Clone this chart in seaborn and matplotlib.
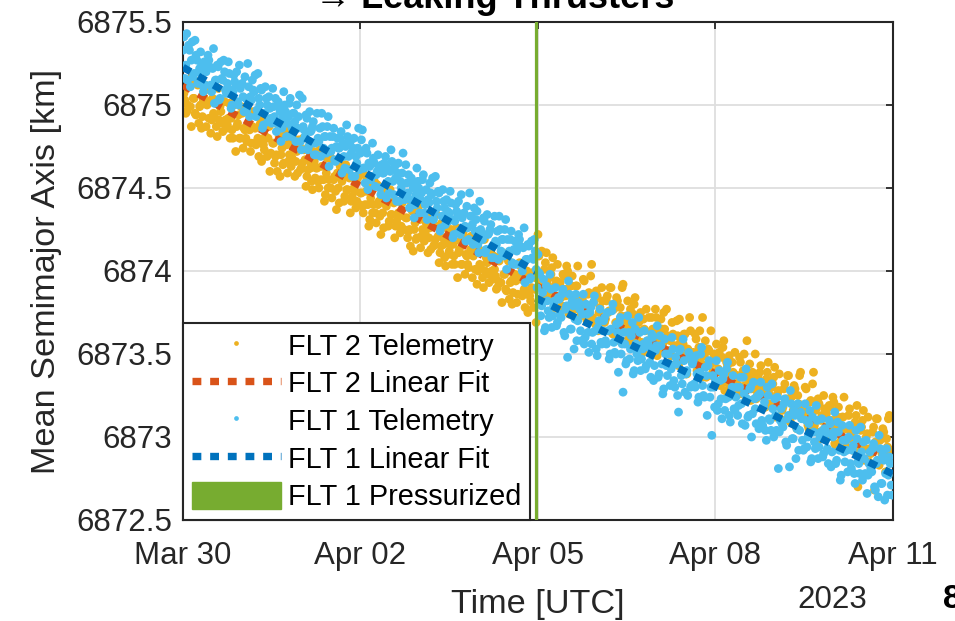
import numpy as np
import pandas as pd
import matplotlib
matplotlib.use("Agg")
import matplotlib.pyplot as plt
from matplotlib.lines import Line2D
from matplotlib.patches import Patch
import seaborn as sns

# ---------------- data ----------------
start_time = "2023-03-30 00:00"
sample_step_hours = 0.75          # telemetry sample spacing
second_pass_offset_hours = 0.375  # second interleaved set of samples
pressurized_time = "2023-04-04 23:12"

# FLT 2 telemetry, mean semimajor axis [km]
flt2_sma_a = [
    6875.15, 6875.03, 6874.96, 6875.12, 6874.99, 6875.17, 6875.04, 6874.94, 6875.12, 6874.99, 6874.86, 6875.03,
    6875.12, 6875.00, 6874.92, 6874.83, 6875.04, 6874.93, 6874.87, 6875.10, 6874.99, 6874.89, 6875.02, 6874.91,
    6874.88, 6875.01, 6874.92, 6874.80, 6875.02, 6874.87, 6874.94, 6874.80, 6874.95, 6874.86, 6874.80, 6874.96,
    6874.85, 6874.77, 6874.96, 6874.86, 6874.78, 6874.69, 6874.91, 6874.78, 6874.73, 6874.90, 6874.80, 6874.60,
    6874.89, 6874.77, 6874.69, 6874.60, 6874.81, 6874.70, 6874.64, 6874.87, 6874.76, 6874.66, 6874.79, 6874.68,
    6874.78, 6874.66, 6874.59, 6874.75, 6874.62, 6874.80, 6874.67, 6874.57, 6874.75, 6874.62, 6874.49, 6874.66,
    6874.62, 6874.54, 6874.73, 6874.63, 6874.55, 6874.46, 6874.68, 6874.55, 6874.50, 6874.67, 6874.57, 6874.37,
    6874.50, 6874.63, 6874.54, 6874.42, 6874.64, 6874.49, 6874.56, 6874.42, 6874.57, 6874.48, 6874.42, 6874.58,
    6874.47, 6874.39, 6874.58, 6874.48, 6874.40, 6874.31, 6874.53, 6874.40, 6874.35, 6874.52, 6874.42, 6874.22,
    6874.35, 6874.48, 6874.39, 6874.27, 6874.49, 6874.34, 6874.41, 6874.27, 6874.42, 6874.33, 6874.27, 6874.43,
    6874.44, 6874.32, 6874.24, 6874.15, 6874.36, 6874.25, 6874.19, 6874.42, 6874.31, 6874.21, 6874.34, 6874.23,
    6874.32, 6874.20, 6874.13, 6874.29, 6874.16, 6874.34, 6874.21, 6874.11, 6874.29, 6874.16, 6874.03, 6874.20,
    6874.12, 6874.25, 6874.16, 6874.04, 6874.26, 6874.11, 6874.18, 6874.04, 6874.19, 6874.10, 6874.04, 6874.20,
    6874.21, 6874.09, 6874.01, 6873.92, 6874.13, 6874.02, 6873.96, 6874.19, 6874.08, 6873.98, 6874.11, 6874.00,
    6874.09, 6873.97, 6873.90, 6874.06, 6873.93, 6874.11, 6873.98, 6873.88, 6874.06, 6873.93, 6873.80, 6873.97,
    6873.94, 6873.86, 6874.05, 6873.95, 6873.87, 6873.78, 6874.00, 6873.87, 6873.82, 6873.99, 6873.89, 6873.69,
    6874.22, 6873.91, 6874.12, 6873.84, 6874.05, 6873.92, 6873.85, 6873.98, 6874.08, 6873.85, 6873.94, 6873.77,
    6873.93, 6873.79, 6873.97, 6873.85, 6874.00, 6873.74, 6873.91, 6873.84, 6873.77, 6873.91, 6873.84, 6873.73,
    6873.83, 6873.94, 6873.72, 6873.86, 6873.77, 6874.04, 6873.81, 6873.68, 6873.85, 6873.75, 6873.69, 6873.82,
    6873.69, 6873.82, 6873.75, 6873.90, 6873.63, 6873.77, 6873.69, 6873.82, 6873.58, 6873.73, 6873.92, 6873.67,
    6873.73, 6873.59, 6873.77, 6873.65, 6873.80, 6873.54, 6873.71, 6873.64, 6873.57, 6873.71, 6873.64, 6873.53,
    6873.72, 6873.58, 6873.65, 6873.51, 6873.72, 6873.59, 6873.52, 6873.65, 6873.75, 6873.52, 6873.61, 6873.44,
    6873.49, 6873.62, 6873.55, 6873.70, 6873.43, 6873.57, 6873.49, 6873.62, 6873.38, 6873.53, 6873.72, 6873.47,
    6873.51, 6873.62, 6873.40, 6873.54, 6873.45, 6873.72, 6873.49, 6873.36, 6873.53, 6873.43, 6873.37, 6873.50,
    6873.47, 6873.33, 6873.51, 6873.39, 6873.54, 6873.28, 6873.45, 6873.38, 6873.31, 6873.45, 6873.38, 6873.27,
    6873.37, 6873.48, 6873.26, 6873.40, 6873.31, 6873.58, 6873.35, 6873.22, 6873.39, 6873.29, 6873.23, 6873.36,
    6873.39, 6873.25, 6873.32, 6873.18, 6873.39, 6873.26, 6873.19, 6873.32, 6873.42, 6873.19, 6873.28, 6873.11,
    6873.16, 6873.29, 6873.22, 6873.37, 6873.10, 6873.24, 6873.16, 6873.29, 6873.05, 6873.20, 6873.39, 6873.14,
    6873.18, 6873.29, 6873.07, 6873.21, 6873.12, 6873.39, 6873.16, 6873.03, 6873.20, 6873.10, 6873.04, 6873.17,
    6873.14, 6873.00, 6873.18, 6873.06, 6873.21, 6872.95, 6873.12, 6873.05, 6872.98, 6873.12, 6873.05, 6872.94,
    6873.13, 6872.99, 6873.06, 6872.92, 6873.13, 6872.70, 6872.93, 6873.06, 6873.16, 6872.93, 6873.02, 6872.85,
    6872.90, 6873.03, 6872.68, 6873.11, 6872.84, 6872.98, 6872.90, 6873.03, 6872.79, 6872.94, 6873.13, 6872.88,
]
flt2_sma_b = [
    6875.07, 6874.95, 6875.00, 6875.15, 6874.87, 6875.04, 6874.95, 6875.14, 6874.89, 6875.00, 6874.93, 6875.04,
    6874.87, 6875.02, 6875.09, 6874.91, 6874.95, 6875.03, 6874.81, 6874.91, 6874.96, 6874.84, 6875.02, 6874.86,
    6874.92, 6874.80, 6874.85, 6875.00, 6874.72, 6874.89, 6874.80, 6874.99, 6874.74, 6874.85, 6874.78, 6874.89,
    6874.72, 6874.87, 6874.94, 6874.76, 6874.80, 6874.88, 6874.66, 6874.76, 6874.81, 6874.69, 6874.87, 6874.71,
    6874.77, 6874.65, 6874.70, 6874.85, 6874.57, 6874.74, 6874.65, 6874.84, 6874.59, 6874.70, 6874.63, 6874.74,
    6874.57, 6874.72, 6874.79, 6874.61, 6874.65, 6874.73, 6874.51, 6874.61, 6874.66, 6874.54, 6874.72, 6874.56,
    6874.62, 6874.50, 6874.55, 6874.70, 6874.42, 6874.59, 6874.50, 6874.69, 6874.44, 6874.55, 6874.48, 6874.59,
    6874.41, 6874.56, 6874.63, 6874.45, 6874.49, 6874.57, 6874.35, 6874.45, 6874.50, 6874.38, 6874.56, 6874.40,
    6874.47, 6874.35, 6874.40, 6874.55, 6874.27, 6874.44, 6874.35, 6874.54, 6874.29, 6874.40, 6874.33, 6874.44,
    6874.26, 6874.41, 6874.48, 6874.30, 6874.34, 6874.42, 6874.20, 6874.30, 6874.35, 6874.23, 6874.41, 6874.25,
    6874.32, 6874.20, 6874.25, 6874.40, 6874.12, 6874.29, 6874.20, 6874.39, 6874.14, 6874.25, 6874.18, 6874.29,
    6874.11, 6874.26, 6874.33, 6874.15, 6874.19, 6874.27, 6874.05, 6874.15, 6874.20, 6874.08, 6874.26, 6874.10,
    6874.16, 6874.04, 6874.09, 6874.24, 6873.96, 6874.13, 6874.04, 6874.23, 6873.98, 6874.09, 6874.02, 6874.13,
    6873.96, 6874.11, 6874.18, 6874.00, 6874.04, 6874.12, 6873.90, 6874.00, 6874.05, 6873.93, 6874.11, 6873.95,
    6874.01, 6873.89, 6873.94, 6874.09, 6873.81, 6873.98, 6873.89, 6874.08, 6873.83, 6873.94, 6873.87, 6873.98,
    6873.81, 6873.96, 6874.03, 6873.85, 6873.89, 6873.97, 6873.75, 6873.85, 6873.90, 6873.78, 6873.96, 6873.98,
    6874.09, 6873.94, 6873.84, 6874.01, 6874.11, 6873.86, 6873.96, 6874.02, 6873.78, 6873.92, 6874.04, 6873.85,
    6873.84, 6873.98, 6873.89, 6874.03, 6873.75, 6873.91, 6873.97, 6873.82, 6873.91, 6874.03, 6873.78, 6873.84,
    6873.95, 6873.80, 6873.70, 6873.87, 6873.97, 6873.72, 6873.82, 6873.88, 6873.64, 6873.78, 6873.90, 6873.71,
    6873.71, 6873.85, 6873.76, 6873.90, 6873.62, 6873.78, 6873.84, 6873.69, 6873.78, 6873.90, 6873.65, 6873.71,
    6873.82, 6873.67, 6873.57, 6873.74, 6873.84, 6873.59, 6873.69, 6873.75, 6873.51, 6873.65, 6873.77, 6873.58,
    6873.58, 6873.72, 6873.63, 6873.77, 6873.49, 6873.65, 6873.71, 6873.56, 6873.65, 6873.77, 6873.52, 6873.58,
    6873.69, 6873.54, 6873.44, 6873.61, 6873.71, 6873.46, 6873.56, 6873.62, 6873.38, 6873.52, 6873.64, 6873.45,
    6873.45, 6873.59, 6873.50, 6873.64, 6873.36, 6873.52, 6873.58, 6873.43, 6873.52, 6873.64, 6873.39, 6873.45,
    6873.56, 6873.41, 6873.31, 6873.48, 6873.58, 6873.33, 6873.43, 6873.49, 6873.25, 6873.39, 6873.51, 6873.32,
    6873.31, 6873.45, 6873.36, 6873.50, 6873.22, 6873.38, 6873.44, 6873.29, 6873.38, 6873.50, 6873.25, 6873.31,
    6873.43, 6873.28, 6873.18, 6873.35, 6873.45, 6873.20, 6873.30, 6873.36, 6873.12, 6873.26, 6873.38, 6873.19,
    6873.18, 6873.32, 6873.23, 6873.37, 6873.09, 6873.25, 6873.31, 6873.16, 6873.25, 6873.37, 6873.12, 6873.18,
    6873.30, 6873.15, 6873.05, 6873.22, 6873.32, 6873.07, 6873.17, 6873.23, 6872.99, 6873.13, 6873.25, 6873.06,
    6873.05, 6873.19, 6873.10, 6873.24, 6872.96, 6873.12, 6873.18, 6873.03, 6873.12, 6873.24, 6872.99, 6873.05,
    6873.17, 6873.02, 6872.92, 6873.09, 6873.19, 6872.94, 6873.04, 6873.10, 6872.86, 6873.00, 6873.12, 6872.93,
    6872.92, 6873.06, 6872.97, 6873.11, 6872.83, 6872.99, 6873.05, 6872.90, 6872.99, 6873.11, 6872.86, 6872.92,
]

# FLT 1 telemetry, mean semimajor axis [km]
flt1_sma_a = [
    6875.33, 6875.16, 6875.43, 6875.36, 6875.11, 6875.38, 6875.19, 6875.30, 6875.13, 6875.22, 6875.25, 6875.08,
    6875.12, 6875.22, 6875.27, 6875.12, 6875.22, 6875.01, 6875.15, 6875.23, 6875.04, 6875.16, 6875.27, 6875.09,
    6875.13, 6875.19, 6874.98, 6875.08, 6875.14, 6875.20, 6875.00, 6875.10, 6875.13, 6874.96, 6875.04, 6875.25,
    6874.93, 6875.03, 6875.09, 6875.18, 6874.97, 6875.04, 6875.10, 6874.86, 6874.95, 6875.04, 6874.90, 6874.98,
    6874.89, 6874.99, 6875.04, 6874.89, 6874.99, 6874.78, 6874.92, 6875.00, 6874.81, 6874.93, 6875.04, 6874.86,
    6874.95, 6874.78, 6874.86, 6875.06, 6874.73, 6874.87, 6874.81, 6874.92, 6874.75, 6874.84, 6874.87, 6874.70,
    6874.70, 6874.80, 6874.86, 6874.95, 6874.74, 6874.81, 6874.87, 6874.63, 6874.72, 6874.81, 6874.67, 6874.75,
    6874.74, 6874.80, 6874.59, 6874.69, 6874.75, 6874.81, 6874.61, 6874.71, 6874.74, 6874.57, 6874.65, 6874.86,
    6874.71, 6874.85, 6874.62, 6874.74, 6874.49, 6874.63, 6874.57, 6874.68, 6874.51, 6874.60, 6874.63, 6874.46,
    6874.59, 6874.65, 6874.44, 6874.54, 6874.60, 6874.66, 6874.46, 6874.56, 6874.59, 6874.42, 6874.50, 6874.71,
    6874.43, 6874.53, 6874.58, 6874.43, 6874.53, 6874.32, 6874.46, 6874.54, 6874.35, 6874.47, 6874.58, 6874.40,
    6874.31, 6874.41, 6874.47, 6874.56, 6874.35, 6874.42, 6874.48, 6874.24, 6874.33, 6874.42, 6874.28, 6874.36,
    6874.35, 6874.41, 6874.20, 6874.30, 6874.36, 6874.42, 6874.22, 6874.32, 6874.35, 6874.18, 6874.26, 6874.47,
    6874.33, 6874.16, 6874.24, 6874.36, 6874.11, 6874.25, 6874.19, 6874.30, 6874.13, 6874.22, 6874.25, 6874.08,
    6874.08, 6874.18, 6874.24, 6874.33, 6874.12, 6874.19, 6874.25, 6874.01, 6874.10, 6874.19, 6874.05, 6874.13,
    6874.04, 6874.14, 6874.19, 6874.04, 6874.14, 6873.93, 6874.07, 6874.15, 6873.96, 6874.08, 6874.19, 6874.01,
    6874.10, 6873.98, 6873.79, 6873.95, 6873.66, 6873.82, 6873.72, 6873.89, 6873.73, 6873.82, 6873.67, 6873.84,
    6873.74, 6873.86, 6873.63, 6873.77, 6873.48, 6873.86, 6873.65, 6873.79, 6873.71, 6873.58, 6873.81, 6873.64,
    6873.74, 6873.56, 6873.80, 6873.63, 6873.75, 6873.56, 6873.81, 6873.64, 6873.49, 6873.70, 6873.57, 6873.64,
    6873.72, 6873.56, 6873.64, 6873.50, 6873.76, 6873.57, 6873.50, 6873.63, 6873.69, 6873.50, 6873.27, 6873.56,
    6873.46, 6873.63, 6873.53, 6873.69, 6873.40, 6873.56, 6873.46, 6873.63, 6873.47, 6873.56, 6873.41, 6873.58,
    6873.54, 6873.36, 6873.60, 6873.43, 6873.55, 6873.36, 6873.61, 6873.44, 6873.29, 6873.50, 6873.37, 6873.44,
    6873.41, 6873.53, 6873.30, 6873.44, 6873.15, 6873.53, 6873.32, 6873.46, 6873.38, 6873.25, 6873.48, 6873.31,
    6873.46, 6873.30, 6873.38, 6873.24, 6873.50, 6873.31, 6873.24, 6873.37, 6873.43, 6873.24, 6873.01, 6873.30,
    6873.34, 6873.16, 6873.40, 6873.23, 6873.35, 6873.16, 6873.41, 6873.24, 6873.09, 6873.30, 6873.17, 6873.24,
    6873.13, 6873.30, 6873.20, 6873.36, 6873.07, 6873.23, 6873.13, 6873.30, 6873.14, 6873.23, 6873.08, 6873.25,
    6873.26, 6873.10, 6873.18, 6873.04, 6873.30, 6873.11, 6873.04, 6873.17, 6873.23, 6873.04, 6872.81, 6873.10,
    6873.08, 6873.20, 6872.97, 6873.11, 6872.82, 6873.20, 6872.99, 6873.13, 6873.05, 6872.92, 6873.15, 6872.98,
    6872.93, 6873.10, 6873.00, 6873.16, 6872.87, 6873.03, 6872.93, 6873.10, 6872.94, 6873.03, 6872.88, 6873.05,
    6873.02, 6872.84, 6873.08, 6872.91, 6873.03, 6872.84, 6873.09, 6872.92, 6872.77, 6872.98, 6872.85, 6872.92,
    6873.00, 6872.84, 6872.92, 6872.78, 6873.04, 6872.85, 6872.78, 6872.91, 6872.97, 6872.78, 6872.66, 6872.84,
    6872.81, 6872.93, 6872.70, 6872.84, 6872.64, 6872.93, 6872.72, 6872.86, 6872.78, 6872.65, 6872.88, 6872.71,
]
flt1_sma_b = [
    6875.41, 6875.24, 6875.15, 6875.33, 6875.27, 6875.17, 6875.39, 6875.27, 6875.20, 6875.32, 6875.12, 6875.26,
    6875.20, 6875.30, 6875.23, 6875.08, 6875.34, 6875.15, 6875.24, 6875.03, 6875.26, 6875.15, 6875.20, 6875.07,
    6875.26, 6875.09, 6875.00, 6875.18, 6875.12, 6875.02, 6875.24, 6875.12, 6875.05, 6875.17, 6874.97, 6875.11,
    6875.05, 6875.15, 6875.08, 6874.93, 6875.19, 6875.00, 6875.09, 6874.88, 6875.11, 6875.00, 6875.05, 6874.92,
    6875.10, 6874.93, 6874.84, 6875.02, 6874.96, 6874.86, 6875.08, 6874.96, 6874.89, 6875.01, 6874.81, 6874.95,
    6874.90, 6875.00, 6874.93, 6874.78, 6875.04, 6874.85, 6874.94, 6874.73, 6874.96, 6874.85, 6874.90, 6874.77,
    6874.95, 6874.78, 6874.69, 6874.87, 6874.81, 6874.71, 6874.93, 6874.81, 6874.74, 6874.86, 6874.66, 6874.80,
    6874.74, 6874.84, 6874.77, 6874.62, 6874.88, 6874.69, 6874.78, 6874.57, 6874.80, 6874.69, 6874.74, 6874.61,
    6874.79, 6874.62, 6874.53, 6874.71, 6874.65, 6874.55, 6874.77, 6874.65, 6874.58, 6874.70, 6874.50, 6874.64,
    6874.59, 6874.69, 6874.62, 6874.47, 6874.73, 6874.54, 6874.63, 6874.42, 6874.65, 6874.54, 6874.59, 6874.46,
    6874.64, 6874.47, 6874.38, 6874.56, 6874.50, 6874.40, 6874.62, 6874.50, 6874.43, 6874.55, 6874.35, 6874.49,
    6874.43, 6874.53, 6874.46, 6874.31, 6874.57, 6874.38, 6874.47, 6874.26, 6874.49, 6874.38, 6874.43, 6874.30,
    6874.48, 6874.31, 6874.22, 6874.40, 6874.34, 6874.24, 6874.46, 6874.34, 6874.27, 6874.39, 6874.19, 6874.33,
    6874.28, 6874.38, 6874.31, 6874.16, 6874.42, 6874.23, 6874.32, 6874.11, 6874.34, 6874.23, 6874.28, 6874.15,
    6874.33, 6874.16, 6874.07, 6874.25, 6874.19, 6874.09, 6874.31, 6874.19, 6874.12, 6874.24, 6874.04, 6874.18,
    6874.12, 6874.22, 6874.15, 6874.00, 6874.26, 6874.07, 6874.16, 6873.95, 6874.18, 6874.07, 6874.12, 6873.90,
    6873.99, 6873.73, 6873.87, 6873.64, 6873.91, 6873.76, 6873.98, 6873.66, 6873.79, 6873.90, 6873.69, 6873.83,
    6873.72, 6873.89, 6873.61, 6873.79, 6873.94, 6873.65, 6873.82, 6873.53, 6873.86, 6873.70, 6873.77, 6873.58,
    6873.86, 6873.60, 6873.74, 6873.51, 6873.78, 6873.63, 6873.85, 6873.53, 6873.66, 6873.77, 6873.56, 6873.70,
    6873.58, 6873.75, 6873.47, 6873.65, 6873.80, 6873.51, 6873.68, 6873.39, 6873.72, 6873.56, 6873.63, 6873.44,
    6873.73, 6873.47, 6873.61, 6873.38, 6873.65, 6873.50, 6873.72, 6873.40, 6873.53, 6873.64, 6873.43, 6873.57,
    6873.45, 6873.62, 6873.34, 6873.52, 6873.67, 6873.38, 6873.55, 6873.26, 6873.59, 6873.43, 6873.50, 6873.31,
    6873.60, 6873.34, 6873.48, 6873.25, 6873.52, 6873.37, 6873.59, 6873.27, 6873.40, 6873.51, 6873.30, 6873.44,
    6873.32, 6873.49, 6873.21, 6873.39, 6873.54, 6873.25, 6873.42, 6873.13, 6873.46, 6873.30, 6873.37, 6873.18,
    6873.46, 6873.20, 6873.34, 6873.11, 6873.38, 6873.23, 6873.45, 6873.13, 6873.26, 6873.37, 6873.16, 6873.30,
    6873.19, 6873.36, 6873.08, 6873.26, 6873.41, 6873.12, 6873.29, 6873.00, 6873.33, 6873.17, 6873.24, 6873.05,
    6873.33, 6873.07, 6873.21, 6872.98, 6873.25, 6873.10, 6873.32, 6873.00, 6873.13, 6873.24, 6873.03, 6873.17,
    6873.06, 6873.23, 6872.95, 6873.13, 6873.28, 6872.99, 6873.16, 6872.87, 6873.20, 6873.04, 6873.11, 6872.92,
    6873.20, 6872.94, 6873.08, 6872.85, 6873.12, 6872.97, 6873.19, 6872.87, 6873.00, 6873.11, 6872.90, 6873.04,
    6872.93, 6873.10, 6872.82, 6873.00, 6873.15, 6872.86, 6873.03, 6872.74, 6873.07, 6872.91, 6872.98, 6872.79,
    6873.07, 6872.81, 6872.95, 6872.72, 6872.99, 6872.84, 6873.06, 6872.74, 6872.87, 6872.98, 6872.77, 6872.91,
    6872.79, 6872.96, 6872.68, 6872.86, 6873.01, 6872.72, 6872.89, 6872.62, 6872.93, 6872.77, 6872.84, 6872.65,
]

# Linear fits (end points)
fit2_time = ["2023-03-30 00:00", "2023-04-04 23:12", "2023-04-11 00:00"]
fit2_sma = [6875.119, 6873.911, 6872.855]
fit1_pre_time = ["2023-03-30 00:00", "2023-04-04 23:12"]
fit1_pre_sma = [6875.227, 6873.996]
fit1_post_time = ["2023-04-04 23:12", "2023-04-11 00:00"]
fit1_post_sma = [6873.837, 6872.777]

x_ticks = ["2023-03-30", "2023-04-02", "2023-04-05", "2023-04-08", "2023-04-11"]
x_tick_labels = ["Mar 30", "Apr 02", "Apr 05", "Apr 08", "Apr 11"]
y_ticks = [6872.5, 6873, 6873.5, 6874, 6874.5, 6875, 6875.5]
y_tick_labels = ["6872.5", "6873", "6873.5", "6874", "6874.5", "6875", "6875.5"]

# ---------------- style ----------------
sns.set_theme(style="white")
plt.rcParams["font.family"] = ["Liberation Sans", "DejaVu Sans"]
plt.rcParams["axes.unicode_minus"] = False

C_FLT2 = "#EDB120"
C_FIT2 = "#D95319"
C_FLT1 = "#4DBEEE"
C_FIT1 = "#0072BD"
C_PRESS = "#77AC30"
DARK = "#262626"

W, H, DPI = 955, 621, 100
fig = plt.figure(figsize=(W / DPI, H / DPI), dpi=DPI)
ax = fig.add_axes([183 / W, 1 - 520 / H, (893 - 183) / W, (520 - 22) / H])

t0 = pd.Timestamp(start_time)


def telemetry_frame(vals_a, vals_b):
    ta = t0 + pd.to_timedelta(np.arange(len(vals_a)) * sample_step_hours, unit="h")
    tb = t0 + pd.to_timedelta(np.arange(len(vals_b)) * sample_step_hours
                              + second_pass_offset_hours, unit="h")
    return pd.DataFrame({"time": list(ta) + list(tb), "sma": list(vals_a) + list(vals_b)})


df2 = telemetry_frame(flt2_sma_a, flt2_sma_b)
df1 = telemetry_frame(flt1_sma_a, flt1_sma_b)

dot_s = 40
dots_ls = (0, (1.2, 1.2))
fit_lw = 5.3

sns.scatterplot(data=df2, x="time", y="sma", ax=ax, color=C_FLT2, s=dot_s,
                linewidth=0, edgecolor="none", legend=False, zorder=2)
sns.lineplot(x=pd.to_datetime(fit2_time), y=fit2_sma, ax=ax, color=C_FIT2,
             lw=fit_lw, zorder=3, sort=False, estimator=None)
ax.lines[-1].set_linestyle(dots_ls)
ax.lines[-1].set_dash_capstyle("butt")

sns.scatterplot(data=df1, x="time", y="sma", ax=ax, color=C_FLT1, s=dot_s,
                linewidth=0, edgecolor="none", legend=False, zorder=4)
for tt, vv in [(fit1_pre_time, fit1_pre_sma), (fit1_post_time, fit1_post_sma)]:
    sns.lineplot(x=pd.to_datetime(tt), y=vv, ax=ax, color=C_FIT1,
                 lw=fit_lw, zorder=5, sort=False, estimator=None)
    ax.lines[-1].set_linestyle(dots_ls)
    ax.lines[-1].set_dash_capstyle("butt")

ax.axvline(pd.Timestamp(pressurized_time), color=C_PRESS, lw=2.3, zorder=6)

# axes
ax.set_xlim(pd.Timestamp(x_ticks[0]), pd.Timestamp(x_ticks[-1]))
ax.set_ylim(y_ticks[0], y_ticks[-1])
ax.set_xticks(pd.to_datetime(x_ticks))
ax.set_xticklabels(x_tick_labels)
ax.set_yticks(y_ticks)
ax.set_yticklabels(y_tick_labels)
ax.tick_params(axis="both", which="both", direction="in", length=5, width=1.3,
               color=DARK, labelcolor=DARK, labelsize=22.5, top=True, right=True)
ax.tick_params(axis="x", pad=15)
ax.tick_params(axis="y", pad=8)
for sp in ax.spines.values():
    sp.set_color(DARK)
    sp.set_linewidth(1.5)
ax.grid(True, color="#dedede", lw=1.3)
ax.set_axisbelow(True)
ax.set_xlabel("Time [UTC]", fontsize=24.7, color=DARK, labelpad=13)
ax.set_ylabel("Mean Semimajor Axis [km]", fontsize=24.7, color=DARK, labelpad=10)

# legend
handles = [
    Line2D([], [], ls="", marker="o", ms=3.4, mew=0, color=C_FLT2),
    Line2D([], [], ls=dots_ls, lw=fit_lw, color=C_FIT2, dash_capstyle="butt"),
    Line2D([], [], ls="", marker="o", ms=3.4, mew=0, color=C_FLT1),
    Line2D([], [], ls=dots_ls, lw=fit_lw, color=C_FIT1, dash_capstyle="butt"),
    Patch(facecolor=C_PRESS, edgecolor=C_PRESS),
]
labels = ["FLT 2 Telemetry", "FLT 2 Linear Fit", "FLT 1 Telemetry",
          "FLT 1 Linear Fit", "FLT 1 Pressurized"]
leg = ax.legend(handles, labels, loc="lower left", bbox_to_anchor=(0, 0),
                borderaxespad=0, fontsize=20.8, frameon=True, fancybox=False,
                framealpha=1, edgecolor=DARK, handlelength=3.1, handleheight=1.05,
                labelspacing=0.29, handletextpad=0.25, borderpad=0.3)
leg.get_frame().set_linewidth(1.5)
leg.set_zorder(10)
for t in leg.get_texts():
    t.set_color("black")

# extra text
fig.text(495 / W, 1 - 8 / H, "\u2192 Leaking Thrusters", ha="center", va="baseline",
         fontsize=26, fontweight="bold", color="black")
fig.text(832 / W, 1 - 600 / H, "2023", ha="center", va="center", fontsize=22.5, color=DARK)
fig.text(943 / W, 1 - 600 / H, "8", ha="left", va="center", fontsize=24, fontweight="bold",
         color="black")

fig.savefig("out.png", dpi=DPI)
